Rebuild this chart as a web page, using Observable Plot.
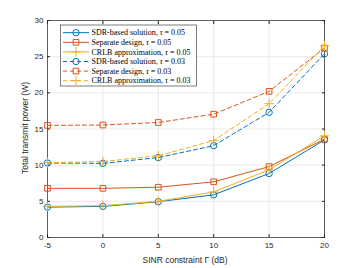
<!DOCTYPE html>
<html><head><meta charset="utf-8">
<script src="https://cdn.jsdelivr.net/npm/d3@7"></script>
<script src="https://cdn.jsdelivr.net/npm/@observablehq/plot@0.6"></script>
<style>
body{margin:0;background:#fff;}
#c{position:relative;width:357px;height:268px;}
</style></head><body><div id="c"></div>
<script>
const sinr = [-5, 0, 5, 10, 15, 20];
const sdr05 = [4.2, 4.3, 4.95, 5.9, 8.85, 13.5];
const sep05 = [6.8, 6.8, 6.95, 7.7, 9.8, 13.6];
const crlb05 = [4.3, 4.4, 5.0, 6.3, 9.35, 14.05];
const sdr03 = [10.3, 10.25, 11.05, 12.7, 17.3, 25.4];
const sep03 = [15.5, 15.55, 15.9, 17.05, 20.2, 26.2];
const crlb03 = [10.35, 10.5, 11.3, 13.4, 18.5, 26.5];
const xTicks = [-5, 0, 5, 10, 15, 20];
const yTicks = [0, 5, 10, 15, 20, 25, 30];

const blue = "#0072BD", orange = "#D95319", yellow = "#EDB120";
const series = [
  {name: "SDR-based solution, ", tau: "0.05", vals: sdr05, color: blue, symbol: "circle", dash: null},
  {name: "Separate design, ", tau: "0.05", vals: sep05, color: orange, symbol: "square", dash: null},
  {name: "CRLB approximation, ", tau: "0.05", vals: crlb05, color: yellow, symbol: "plus", dash: null},
  {name: "SDR-based solution, ", tau: "0.03", vals: sdr03, color: blue, symbol: "circle", dash: "4,3"},
  {name: "Separate design, ", tau: "0.03", vals: sep03, color: orange, symbol: "square", dash: "4,3"},
  {name: "CRLB approximation, ", tau: "0.03", vals: crlb03, color: yellow, symbol: "plus", dash: "4,3"}
];

const fmt = d => String(d);
const marks = [
  Plot.gridX(xTicks, {stroke: "#dcdcdc", strokeOpacity: 1, strokeWidth: 0.6}),
  Plot.gridY(yTicks, {stroke: "#dcdcdc", strokeOpacity: 1, strokeWidth: 0.6}),
  Plot.frame({stroke: "#262626", strokeWidth: 0.7}),
  Plot.axisX(xTicks, {tickSize: -3, tickPadding: 8, stroke: "#262626", fill: "#262626", fontSize: 8, label: null, tickFormat: fmt}),
  Plot.axisX(xTicks, {anchor: "top", tickSize: -3, text: null, stroke: "#262626", label: null}),
  Plot.axisY(yTicks, {tickSize: -3, tickPadding: 7, stroke: "#262626", fill: "#262626", fontSize: 8, label: null, tickFormat: fmt}),
  Plot.axisY(yTicks, {anchor: "right", tickSize: -3, text: null, stroke: "#262626", label: null})
];
for (const s of series) {
  const data = sinr.map((x, i) => ({x, y: s.vals[i]}));
  marks.push(Plot.line(data, {x: "x", y: "y", stroke: s.color, strokeWidth: 1, strokeDasharray: s.dash}));
  marks.push(Plot.dot(data, {x: "x", y: "y", stroke: s.color, fill: "none", symbol: s.symbol, r: 3.2, strokeWidth: 1}));
}

const chart = Plot.plot({
  width: 357, height: 268,
  marginLeft: 47, marginRight: 33, marginTop: 20, marginBottom: 31,
  style: {fontFamily: "'Liberation Sans', Arial, sans-serif", background: "#fff", overflow: "visible"},
  x: {domain: [-5, 20]},
  y: {domain: [0, 30]},
  marks
});

const svg = d3.select(chart);
// axis labels
svg.append("text").attr("x", 185).attr("y", 262.5).attr("text-anchor", "middle")
  .attr("font-size", 8.5).attr("fill", "#262626").attr("font-family", "'Liberation Sans', Arial, sans-serif")
  .text("SINR constraint Γ (dB)");
svg.append("text").attr("transform", "translate(28,128) rotate(-90)").attr("text-anchor", "middle")
  .attr("font-size", 8.5).attr("fill", "#262626").attr("font-family", "'Liberation Sans', Arial, sans-serif")
  .text("Total transmit power (W)");

// legend
const lg = svg.append("g").attr("text-anchor", "start");
lg.append("rect").attr("x", 60.5).attr("y", 25).attr("width", 136).attr("height", 61)
  .attr("fill", "#fff").attr("stroke", "#262626").attr("stroke-width", 0.6);
series.forEach((s, i) => {
  const y = 32.7 + i * 9.6;
  lg.append("line").attr("x1", 63).attr("x2", 89).attr("y1", y).attr("y2", y)
    .attr("stroke", s.color).attr("stroke-width", 1).attr("stroke-dasharray", s.dash);
  const sym = d3.symbol().type(s.symbol === "circle" ? d3.symbolCircle : s.symbol === "square" ? d3.symbolSquare : d3.symbolPlus).size(3.2 * 3.2 * Math.PI);
  lg.append("path").attr("d", sym()).attr("transform", `translate(76,${y})`)
    .attr("fill", "none").attr("stroke", s.color).attr("stroke-width", 1);
  const t = lg.append("text").attr("x", 91.5).attr("y", y + 2.7).attr("font-size", 8)
    .attr("text-anchor", "start")
    .attr("fill", "#000").attr("font-family", "'Liberation Serif', 'DejaVu Serif', serif");
  t.append("tspan").text(s.name);
  t.append("tspan").attr("font-style", "italic").text("τ");
  t.append("tspan").text(" = " + s.tau);
});

document.getElementById("c").appendChild(chart);
</script></body></html>
